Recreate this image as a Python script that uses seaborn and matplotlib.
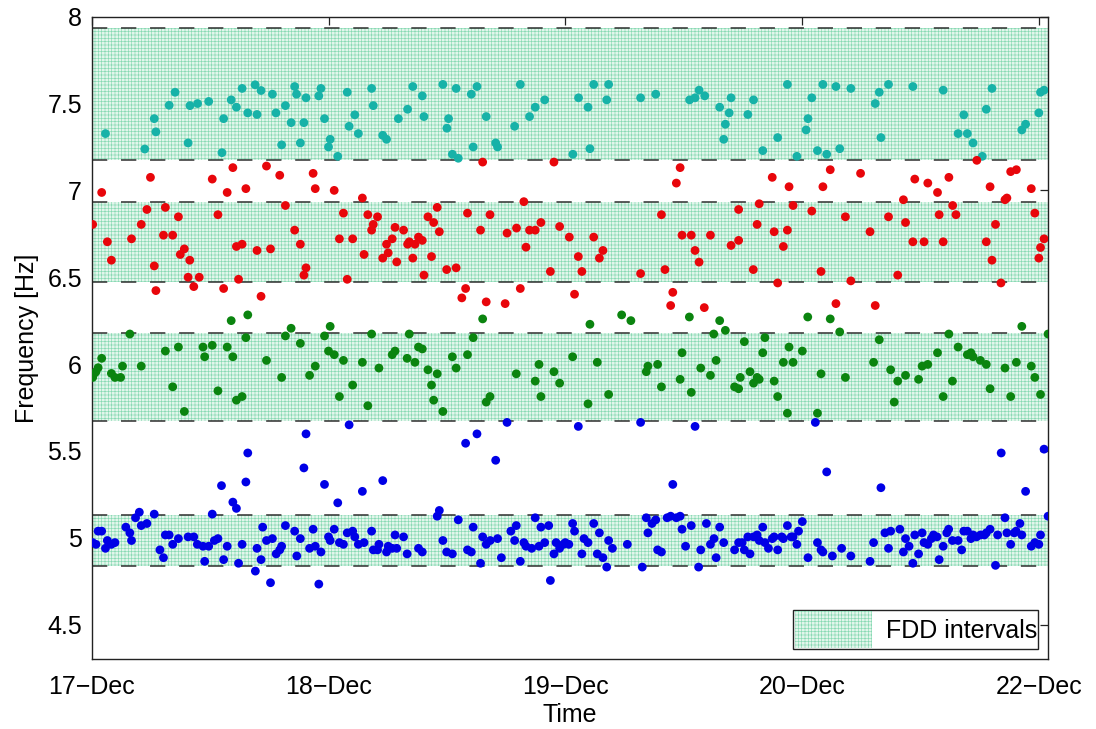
import numpy as np
import pandas as pd
import matplotlib
matplotlib.use("Agg")
import matplotlib.pyplot as plt
from matplotlib.patches import Patch
import seaborn as sns

# ---- identified modal frequencies, time in days since 17-Dec 00:00 ----
cyan_t = [0.058, 0.224, 0.264, 0.271, 0.327, 0.352, 0.407, 0.415, 0.447, 0.494, 0.550, 0.557, 0.589,
          0.611, 0.635, 0.659, 0.690, 0.698, 0.715, 0.763, 0.778, 0.802, 0.818, 0.842, 0.857, 0.865,
          0.881, 0.896, 0.905, 0.959, 0.968, 0.983, 1.000, 1.007, 1.039, 1.079, 1.087, 1.111, 1.126,
          1.182, 1.189, 1.229, 1.245, 1.295, 1.334, 1.356, 1.396, 1.403, 1.483, 1.500, 1.507, 1.523,
          1.539, 1.548, 1.603, 1.611, 1.627, 1.666, 1.706, 1.714, 1.786, 1.810, 1.849, 1.873, 1.913,
          2.032, 2.056, 2.096, 2.104, 2.120, 2.175, 2.183, 2.318, 2.382, 2.525, 2.548, 2.565, 2.589,
          2.652, 2.669, 2.676, 2.692, 2.700, 2.771, 2.795, 2.834, 2.897, 2.938, 2.978, 3.017, 3.025,
          3.041, 3.065, 3.088, 3.104, 3.143, 3.159, 3.206, 3.309, 3.326, 3.333, 3.365, 3.468, 3.596,
          3.659, 3.683, 3.698, 3.722, 3.761, 3.778, 3.802, 3.928, 3.944, 4.000, 4.007, 4.022]
cyan_f = [7.327, 7.238, 7.413, 7.337, 7.490, 7.565, 7.273, 7.488, 7.500, 7.512, 7.217, 7.413, 7.521,
          7.479, 7.587, 7.446, 7.608, 7.437, 7.575, 7.554, 7.446, 7.262, 7.488, 7.390, 7.598, 7.554,
          7.273, 7.390, 7.533, 7.544, 7.587, 7.413, 7.250, 7.294, 7.196, 7.565, 7.369, 7.435, 7.327,
          7.587, 7.488, 7.317, 7.294, 7.413, 7.467, 7.598, 7.544, 7.425, 7.610, 7.358, 7.413, 7.208,
          7.587, 7.185, 7.554, 7.250, 7.598, 7.425, 7.273, 7.250, 7.369, 7.610, 7.425, 7.479, 7.521,
          7.208, 7.533, 7.479, 7.240, 7.610, 7.521, 7.610, 7.533, 7.554, 7.521, 7.533, 7.577, 7.544,
          7.479, 7.294, 7.381, 7.446, 7.533, 7.437, 7.521, 7.229, 7.304, 7.610, 7.196, 7.348, 7.413,
          7.533, 7.229, 7.610, 7.208, 7.598, 7.240, 7.587, 7.500, 7.565, 7.304, 7.610, 7.598, 7.577,
          7.327, 7.435, 7.327, 7.273, 7.196, 7.467, 7.587, 7.348, 7.381, 7.446, 7.565, 7.577]

red_t = [0.004, 0.042, 0.066, 0.083, 0.168, 0.209, 0.233, 0.248, 0.264, 0.271, 0.303, 0.311, 0.342,
         0.366, 0.374, 0.391, 0.407, 0.414, 0.431, 0.454, 0.509, 0.533, 0.557, 0.572, 0.596, 0.611,
         0.620, 0.635, 0.651, 0.698, 0.715, 0.738, 0.755, 0.794, 0.818, 0.857, 0.881, 0.896, 0.905,
         0.935, 0.944, 1.024, 1.046, 1.063, 1.079, 1.102, 1.143, 1.150, 1.166, 1.182, 1.189, 1.207,
         1.229, 1.245, 1.252, 1.269, 1.281, 1.288, 1.317, 1.334, 1.341, 1.356, 1.365, 1.380, 1.396,
         1.403, 1.420, 1.435, 1.444, 1.459, 1.468, 1.499, 1.539, 1.563, 1.579, 1.587, 1.642, 1.651,
         1.666, 1.682, 1.746, 1.754, 1.794, 1.810, 1.825, 1.834, 1.849, 1.873, 1.897, 1.937, 1.952,
         1.976, 2.017, 2.039, 2.055, 2.070, 2.120, 2.144, 2.159, 2.318, 2.406, 2.421, 2.445, 2.454,
         2.469, 2.485, 2.493, 2.532, 2.548, 2.565, 2.587, 2.613, 2.700, 2.732, 2.732, 2.794, 2.810,
         2.819, 2.874, 2.882, 2.897, 2.921, 2.938, 2.945, 2.962, 3.041, 3.080, 3.088, 3.119, 3.143,
         3.183, 3.206, 3.247, 3.287, 3.309, 3.365, 3.404, 3.428, 3.437, 3.468, 3.476, 3.515, 3.531,
         3.572, 3.579, 3.596, 3.620, 3.636, 3.650, 3.738, 3.778, 3.794, 3.802, 3.817, 3.840, 3.857,
         3.865, 3.881, 3.905, 3.968, 3.983, 4.000, 4.007, 4.022]
red_f = [6.804, 6.988, 6.704, 6.598, 6.721, 6.804, 6.890, 7.075, 6.565, 6.423, 6.742, 6.902, 6.742,
         6.848, 6.631, 6.663, 6.500, 6.598, 6.446, 6.500, 7.065, 6.860, 6.435, 6.988, 7.131, 6.677,
         6.488, 6.690, 7.010, 6.654, 6.390, 7.140, 6.663, 7.087, 6.913, 6.771, 6.690, 6.512, 6.554,
         7.098, 7.010, 7.000, 6.721, 6.869, 6.488, 6.721, 6.956, 6.631, 6.860, 6.771, 6.804, 6.848,
         6.610, 6.690, 6.640, 6.721, 6.787, 6.588, 6.771, 6.690, 6.704, 6.610, 6.690, 6.731, 6.712,
         6.512, 6.848, 6.619, 6.815, 6.902, 6.762, 6.544, 6.554, 6.381, 6.435, 6.869, 6.771, 7.163,
         6.358, 6.860, 6.348, 6.754, 6.783, 6.435, 6.935, 6.673, 6.771, 6.771, 6.815, 6.533, 7.163,
         6.792, 6.731, 6.402, 6.619, 6.533, 6.731, 6.610, 6.654, 6.521, 6.860, 6.544, 6.337, 6.413,
         7.042, 7.131, 6.742, 6.742, 6.654, 6.587, 6.325, 6.742, 6.683, 6.890, 6.712, 6.544, 6.804,
         6.923, 7.075, 6.762, 6.467, 6.677, 6.771, 7.021, 6.913, 6.881, 6.533, 7.021, 7.119, 6.348,
         6.848, 6.479, 7.098, 6.762, 6.337, 6.848, 6.512, 6.946, 6.815, 6.704, 7.065, 6.704, 7.042,
         6.988, 6.860, 6.704, 7.075, 6.913, 6.860, 7.173, 6.704, 7.021, 6.598, 6.804, 6.467, 6.946,
         6.956, 7.108, 7.119, 7.010, 6.869, 6.610, 6.671, 6.721]

green_t = [0.004, 0.011, 0.018, 0.027, 0.042, 0.083, 0.098, 0.122, 0.130, 0.161, 0.209, 0.311, 0.342,
           0.366, 0.391, 0.470, 0.477, 0.509, 0.533, 0.572, 0.589, 0.596, 0.611, 0.635, 0.651, 0.659,
           0.738, 0.802, 0.818, 0.842, 0.881, 0.920, 0.944, 0.983, 1.000, 1.007, 1.024, 1.046, 1.063,
           1.102, 1.143, 1.166, 1.182, 1.213, 1.269, 1.281, 1.332, 1.341, 1.365, 1.380, 1.396, 1.420,
           1.435, 1.444, 1.459, 1.483, 1.523, 1.539, 1.587, 1.611, 1.651, 1.666, 1.682, 1.793, 1.873,
           1.889, 1.897, 1.952, 1.976, 2.031, 2.096, 2.104, 2.135, 2.183, 2.238, 2.277, 2.342, 2.349,
           2.390, 2.406, 2.485, 2.493, 2.524, 2.532, 2.572, 2.613, 2.627, 2.637, 2.652, 2.676, 2.715,
           2.732, 2.739, 2.756, 2.780, 2.795, 2.810, 2.819, 2.834, 2.843, 2.882, 2.897, 2.921, 2.938,
           2.945, 2.962, 3.001, 3.024, 3.065, 3.080, 3.119, 3.159, 3.183, 3.302, 3.326, 3.374, 3.389,
           3.404, 3.437, 3.492, 3.507, 3.531, 3.572, 3.596, 3.620, 3.635, 3.659, 3.698, 3.713, 3.722,
           3.753, 3.778, 3.794, 3.857, 3.881, 3.905, 3.928, 3.968, 3.983, 4.007, 4.039]
green_f = [5.923, 5.946, 5.956, 5.979, 6.033, 5.946, 5.923, 5.923, 5.988, 6.173, 5.988, 6.075, 5.869,
           6.098, 5.727, 6.098, 6.042, 6.108, 5.846, 6.098, 6.250, 6.042, 5.792, 5.813, 6.152, 6.283,
           6.021, 5.923, 6.162, 6.206, 6.119, 5.935, 5.988, 6.162, 6.075, 6.217, 6.054, 5.813, 6.021,
           5.879, 6.010, 5.760, 6.173, 5.977, 6.054, 6.075, 6.033, 6.173, 6.010, 6.098, 6.087, 5.967,
           5.879, 5.792, 5.944, 5.727, 6.042, 5.977, 6.054, 6.152, 6.260, 5.781, 5.813, 5.944, 5.902,
           5.998, 5.813, 5.956, 5.890, 6.042, 5.771, 6.229, 6.010, 5.825, 6.283, 6.250, 5.956, 5.988,
           5.998, 5.869, 5.912, 6.065, 6.271, 5.837, 5.977, 5.935, 6.173, 6.021, 6.250, 6.194, 5.869,
           5.858, 5.923, 6.129, 5.956, 5.890, 5.923, 5.912, 6.065, 6.152, 5.902, 5.813, 6.010, 5.717,
           6.098, 6.010, 6.075, 6.271, 5.717, 5.944, 6.260, 6.185, 5.923, 6.010, 6.140, 5.967, 5.781,
           5.902, 5.935, 5.912, 5.988, 5.998, 6.065, 5.813, 6.173, 5.902, 6.098, 6.054, 6.065, 6.042,
           6.021, 5.998, 5.858, 5.977, 5.813, 6.010, 6.217, 5.988, 5.923, 5.825, 6.173]

blue_t = [0.004, 0.018, 0.027, 0.042, 0.058, 0.066, 0.083, 0.098, 0.144, 0.161, 0.168, 0.185, 0.201,
          0.209, 0.233, 0.264, 0.288, 0.303, 0.311, 0.327, 0.342, 0.366, 0.407, 0.431, 0.446, 0.470,
          0.477, 0.494, 0.509, 0.518, 0.533, 0.548, 0.557, 0.572, 0.596, 0.611, 0.620, 0.635, 0.651,
          0.659, 0.691, 0.698, 0.715, 0.722, 0.738, 0.755, 0.763, 0.779, 0.794, 0.802, 0.818, 0.857,
          0.866, 0.881, 0.896, 0.905, 0.920, 0.935, 0.944, 0.959, 0.968, 0.983, 1.000, 1.007, 1.024,
          1.039, 1.046, 1.063, 1.079, 1.087, 1.102, 1.111, 1.126, 1.143, 1.150, 1.182, 1.189, 1.207,
          1.213, 1.229, 1.245, 1.252, 1.269, 1.281, 1.288,
          1.317, 1.332, 1.380, 1.396, 1.459, 1.468, 1.483, 1.499, 1.523, 1.548, 1.579, 1.587, 1.603,
          1.611, 1.627, 1.642, 1.651, 1.666, 1.683, 1.706, 1.714, 1.730, 1.754, 1.770, 1.786, 1.793,
          1.810, 1.825, 1.834, 1.858, 1.873, 1.889, 1.897, 1.913, 1.930, 1.937, 1.952, 1.961, 1.976,
          1.992, 2.000, 2.015, 2.031, 2.039, 2.055, 2.070, 2.079, 2.096, 2.120, 2.135, 2.144, 2.159,
          2.175, 2.183, 2.199, 2.262, 2.318, 2.325, 2.342, 2.349, 2.366, 2.382, 2.390, 2.406, 2.430,
          2.445, 2.454, 2.469, 2.485, 2.493, 2.508, 2.532, 2.548, 2.563, 2.572, 2.596, 2.613, 2.628,
          2.637, 2.652, 2.669, 2.715, 2.732,
          2.747, 2.756, 2.771, 2.780, 2.795, 2.810, 2.819, 2.834, 2.843, 2.858, 2.874, 2.882, 2.897,
          2.914, 2.921, 2.938, 2.954, 2.962, 2.978, 2.985, 3.001, 3.025, 3.056, 3.065, 3.080, 3.088,
          3.104, 3.128, 3.167, 3.206, 3.287, 3.302, 3.333, 3.350, 3.365, 3.374, 3.413, 3.428, 3.437,
          3.452, 3.468, 3.476, 3.492, 3.507, 3.515, 3.531, 3.546, 3.555, 3.570, 3.579, 3.596, 3.611,
          3.619, 3.635, 3.659, 3.674, 3.683, 3.698, 3.713, 3.722, 3.737, 3.754, 3.770, 3.778, 3.794,
          3.817, 3.826, 3.841, 3.857, 3.865, 3.881, 3.896, 3.904, 3.920, 3.928, 3.944, 3.968, 3.983,
          4.000, 4.007, 4.022, 4.039]
blue_f = [4.972, 4.962, 5.038, 5.038, 4.939, 4.984, 4.962, 4.972, 5.061, 5.028, 4.984, 5.115, 5.147,
          5.070, 5.082, 5.136, 4.930, 4.885, 5.016, 5.016, 4.962, 4.995, 5.005, 5.005, 4.962, 4.951,
          4.864, 4.951, 5.136, 4.984, 4.995, 5.300, 4.874, 4.951, 5.205, 5.169, 4.853, 4.962, 5.321,
          5.488, 4.808, 4.939, 4.874, 5.061, 4.984, 4.741, 4.995, 4.907, 4.930, 4.951, 5.070, 5.038,
          4.895, 4.995, 5.402, 5.598, 4.939, 5.049, 4.951, 4.733, 4.918, 5.307, 5.005, 4.984, 5.049,
          5.201, 4.972, 4.962, 5.028, 5.650, 5.038, 5.005, 4.962, 5.267, 4.972, 5.038, 4.930, 4.930,
          4.962, 5.329, 4.918, 4.951, 4.939, 5.016, 4.939,
          5.005, 4.907, 4.939, 4.918, 5.124, 5.157, 4.984, 4.918, 4.907, 5.103, 5.544, 4.930, 4.918,
          5.061, 5.598, 4.853, 5.005, 4.962, 4.984, 5.446, 4.995, 4.885, 5.664, 5.038, 4.984, 5.070,
          4.864, 4.972, 4.951, 4.939, 5.115, 4.951, 5.061, 4.972, 5.070, 4.754, 4.907, 4.972, 4.939,
          4.962, 4.972, 4.962, 5.082, 5.038, 5.641, 4.907, 4.995, 4.972, 5.082, 4.907, 5.028, 4.885,
          4.831, 4.984, 4.939, 4.962, 5.664, 4.831, 5.115, 5.028, 5.082, 5.103, 4.930, 4.918, 5.115,
          5.124, 5.307, 5.115, 5.124, 5.049, 4.951, 5.070, 5.641, 4.831, 4.930, 5.082, 4.962, 4.995,
          4.885, 5.061, 4.972, 4.930, 4.972,
          4.972, 4.930, 5.005, 4.907, 5.005, 5.016, 4.984, 5.061, 4.972, 4.939, 4.995, 5.005, 4.930,
          5.005, 4.995, 5.070, 5.005, 5.005, 4.962, 5.038, 5.093, 4.885, 5.664, 4.972, 4.930, 4.918,
          5.379, 4.895, 4.939, 4.895, 4.864, 4.972, 5.288, 5.028, 4.939, 5.038, 5.049, 4.918, 4.995,
          4.951, 4.853, 5.016, 4.907, 5.028, 4.972, 4.962, 4.995, 5.016, 5.005, 4.874, 4.951, 5.028,
          5.049, 4.984, 4.984, 4.930, 5.038, 5.038, 4.995, 5.016, 5.005, 5.016, 5.016, 5.028, 5.049,
          4.841, 5.016, 5.488, 5.115, 5.028, 4.962, 5.028, 5.038, 5.082, 5.016, 5.267, 4.951, 4.972,
          4.962, 5.016, 5.510, 5.124]

# FDD frequency intervals (Hz)
band_low = [7.175, 6.475, 5.670, 4.835]
band_high = [7.935, 6.935, 6.180, 5.130]

tick_days = [0, 1, 2, 3, 4]
tick_labels = ["17\u2212Dec", "18\u2212Dec", "19\u2212Dec", "20\u2212Dec", "22\u2212Dec"]
y_ticks = [4.5, 5.0, 5.5, 6.0, 6.5, 7.0, 7.5, 8.0]
y_tick_labels = ["4.5", "5", "5.5", "6", "6.5", "7", "7.5", "8"]

series_names = ["mode 4", "mode 3", "mode 2", "mode 1"]
series_colors = ["#17b2a8", "#e8060b", "#0b840f", "#0000e6"]

df = pd.concat([
    pd.DataFrame({"t": cyan_t, "f": cyan_f, "mode": series_names[0]}),
    pd.DataFrame({"t": red_t, "f": red_f, "mode": series_names[1]}),
    pd.DataFrame({"t": green_t, "f": green_f, "mode": series_names[2]}),
    pd.DataFrame({"t": blue_t, "f": blue_f, "mode": series_names[3]}),
], ignore_index=True)

sns.set_style("white")
plt.rcParams["font.family"] = ["Liberation Sans", "DejaVu Sans"]
plt.rcParams["hatch.linewidth"] = 0.45
plt.rcParams["text.color"] = "black"
plt.rcParams["axes.labelcolor"] = "black"

fig = plt.figure(figsize=(10.96, 7.29), dpi=100)
ax = fig.add_axes([0.0837, 0.0956, 0.8728, 0.8815])

# dotted mint fill for each FDD interval, dashed bounds on both edges
x_end = 4.04
band_face = "#e2f6eb"
hatch_col = "#86d9b2"
for lo, hi in zip(band_low, band_high):
    ax.fill_between([0, x_end], [lo, lo], [hi, hi], facecolor=band_face,
                    edgecolor=hatch_col, hatch="+++++", linewidth=0, zorder=1)
    for yv in (lo, hi):
        ax.plot([0, 4.0], [yv, yv], color="#2e2e2e", linewidth=1.1,
                dashes=(10, 9), zorder=2)

sns.scatterplot(data=df, x="t", y="f", hue="mode", hue_order=series_names,
                palette=series_colors, s=40, linewidth=0, legend=False,
                ax=ax, zorder=3)

ax.set_xlim(0, x_end)
ax.set_ylim(4.3, 8.0)
ax.set_xticks(tick_days)
ax.set_xticklabels(tick_labels)
ax.set_yticks(y_ticks)
ax.set_yticklabels(y_tick_labels)
ax.tick_params(direction="in", top=True, right=True, length=6, width=0.9,
               labelsize=18, colors="#222222", labelcolor="black")
ax.tick_params(axis="x", pad=11)
ax.tick_params(axis="y", pad=7)
for sp in ax.spines.values():
    sp.set_visible(True)
    sp.set_color("#222222")
    sp.set_linewidth(1.0)

ax.set_xlabel("Time", fontsize=18, labelpad=3, color="black")
ax.set_ylabel("Frequency [Hz]", fontsize=18, labelpad=6, color="black")

handle = Patch(facecolor=band_face, edgecolor=hatch_col, hatch="+++++", linewidth=0)
leg = ax.legend([handle], ["FDD intervals"], loc="lower right", fontsize=18,
                frameon=True, fancybox=False, framealpha=1, edgecolor="#222222",
                handlelength=3.1, handleheight=1.9, borderpad=0.05, handletextpad=0.55,
                borderaxespad=0.4)
leg.get_frame().set_linewidth(1.0)

fig.savefig("out.png", dpi=100)
